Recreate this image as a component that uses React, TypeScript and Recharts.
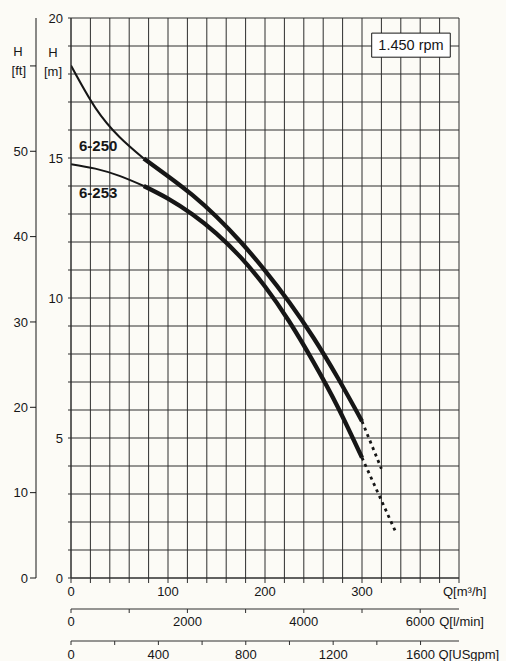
import React from 'react';
import { LineChart, Line, XAxis, YAxis, CartesianGrid, ReferenceArea, ReferenceDot } from 'recharts';

// Flow points [m³/h]
const qPoints = [0, 25, 50, 75, 100, 125, 150, 175, 200, 225, 250, 275, 300];
// Head [m] for each pump curve
const h6250 = [18.3, 16.8, 15.75, 14.98, 14.35, 13.68, 12.9, 12.0, 10.98, 9.85, 8.58, 7.15, 5.6];
const h6253 = [14.78, 14.62, 14.36, 14.0, 13.55, 12.99, 12.3, 11.45, 10.41, 9.16, 7.71, 6.11, 4.3];
const thickFromIndex = 3;
// dashed extension end points
const dashEnd6250 = { q: 320, h: 3.9 };
const dashEnd6253 = { q: 334, h: 1.7 };

const curveNames = ['6-250', '6-253'];
const curveLabelPos = [{ q: 8.2, h: 15.43 }, { q: 8.2, h: 13.75 }];
const speedLabel = '1.450 rpm';

const qTicks = [0, 20, 40, 60, 80, 100, 120, 140, 160, 180, 200, 220, 240, 260, 280, 300, 320, 340, 360, 380, 400];
const qLabelled = [0, 100, 200, 300];
const hTicks = [0, 1, 2, 3, 4, 5, 6, 7, 8, 9, 10, 11, 12, 13, 14, 15, 16, 17, 18, 19, 20];
const hLabelled = [0, 5, 10, 15, 20];
const ftTicks = [0, 10, 20, 30, 40, 50, 60];
const lminTicks = [0, 1000, 2000, 3000, 4000, 5000, 6000];
const lminLabelled = [0, 2000, 4000];
const gpmTicks = [0, 200, 400, 600, 800, 1000, 1200, 1400, 1600];
const gpmLabelled = [0, 400, 800, 1200];

const Q_MAX = 400;
const H_MAX = 20;
const FT_MAX = H_MAX * 3.28084;
const LMIN_MAX = (Q_MAX * 1000) / 60;
const GPM_MAX = 1776;

const FONT = 'Liberation Sans, Arial, Helvetica, sans-serif';
const INK = '#161616';
const GRID = '#2e2e2e';

const seg = (hs: number[], from: number, to: number) =>
  qPoints.slice(from, to + 1).map((q, i) => ({ q, h: hs[from + i] }));

const last = qPoints.length - 1;
const thin6250 = seg(h6250, 0, thickFromIndex);
const thick6250 = seg(h6250, thickFromIndex, last);
const dash6250 = [{ q: qPoints[last], h: h6250[last] }, dashEnd6250];
const thin6253 = seg(h6253, 0, thickFromIndex);
const thick6253 = seg(h6253, thickFromIndex, last);
const dash6253 = [{ q: qPoints[last], h: h6253[last] }, dashEnd6253];

// invisible range carriers so the secondary flow axes get a scale
const lminRange = [{ lmin: 0, h: 0 }, { lmin: LMIN_MAX, h: 0 }];
const gpmRange = [{ gpm: 0, h: 0 }, { gpm: GPM_MAX, h: 0 }];

const txt = { fontFamily: FONT, fontSize: 13, fill: INK } as const;

const QTick = (props: any) => {
  const { x, y, payload } = props;
  const v = payload.value;
  if (v === Q_MAX) {
    return (
      <text x={x - 16} y={y} dy="0.71em" textAnchor="start" {...txt}>
        Q[m³/h]
      </text>
    );
  }
  if (!qLabelled.includes(v)) return <g />;
  return (
    <text x={x} y={y} dy="0.71em" textAnchor="middle" {...txt}>
      {v}
    </text>
  );
};

const LminTick = (props: any) => {
  const { x, y, payload } = props;
  const v = payload.value;
  if (v === 6000) {
    return (
      <g>
        <text x={x} y={y} dy="0.71em" textAnchor="middle" {...txt}>6000</text>
        <text x={x + 19} y={y} dy="0.71em" textAnchor="start" {...txt}>Q[l/min]</text>
      </g>
    );
  }
  if (!lminLabelled.includes(v)) return <g />;
  return (
    <text x={x} y={y} dy="0.71em" textAnchor="middle" {...txt}>
      {v}
    </text>
  );
};

const GpmTick = (props: any) => {
  const { x, y, payload } = props;
  const v = payload.value;
  if (v === 1600) {
    return (
      <g>
        <text x={x} y={y} dy="0.71em" textAnchor="middle" {...txt}>1600</text>
        <text x={x + 18} y={y} dy="0.71em" textAnchor="start" {...txt}>Q[USgpm]</text>
      </g>
    );
  }
  if (!gpmLabelled.includes(v)) return <g />;
  return (
    <text x={x} y={y} dy="0.71em" textAnchor="middle" {...txt}>
      {v}
    </text>
  );
};

const MTick = (props: any) => {
  const { x, y, payload } = props;
  const v = payload.value;
  if (v === 18) {
    return (
      <g>
        <text x={x - 10} y={y - 22} dy="0.35em" textAnchor="middle" {...txt}>H</text>
        <text x={x - 1} y={y - 3} dy="0.35em" textAnchor="end" {...txt}>[m]</text>
      </g>
    );
  }
  if (!hLabelled.includes(v)) return <g />;
  return (
    <text x={x} y={y} dy="0.35em" textAnchor="end" {...txt}>
      {v}
    </text>
  );
};

const FtTick = (props: any) => {
  const { x, y, payload } = props;
  const v = payload.value;
  if (v === 60) {
    return (
      <g>
        <text x={x - 10} y={y - 14} dy="0.35em" textAnchor="middle" {...txt}>H</text>
        <text x={x - 2} y={y + 5} dy="0.35em" textAnchor="end" {...txt}>[ft]</text>
      </g>
    );
  }
  return (
    <text x={x} y={y} dy="0.35em" textAnchor="end" {...txt}>
      {v}
    </text>
  );
};

const lineCommon = {
  yAxisId: 'a_m',
  dataKey: 'h',
  dot: false,
  activeDot: false,
  isAnimationActive: false,
  stroke: INK,
} as const;

export default function App() {
  return (
    <div
      style={{
        position: 'absolute',
        left: 0,
        top: 0,
        width: 506,
        height: 661,
        background: '#fcfbf6',
        fontFamily: FONT,
        overflow: 'hidden',
      }}
    >
      <div style={{ position: 'absolute', left: 8, top: 8 }}>
        <LineChart width={498} height={653} margin={{ top: 10, right: 47, bottom: 0, left: 0 }}>
          <CartesianGrid xAxisId="a_q" yAxisId="a_m" stroke={GRID} strokeWidth={1} />
          <XAxis
            xAxisId="c_gpm"
            dataKey="gpm"
            type="number"
            domain={[0, GPM_MAX]}
            ticks={gpmTicks}
            interval={0}
            height={20}
            tickSize={4}
            tickMargin={5}
            axisLine={{ stroke: GRID }}
            tickLine={{ stroke: GRID }}
            tick={GpmTick}
            allowDataOverflow
          />
          <XAxis
            xAxisId="b_lmin"
            dataKey="lmin"
            type="number"
            domain={[0, LMIN_MAX]}
            ticks={lminTicks}
            interval={0}
            height={32}
            tickSize={4}
            tickMargin={4}
            axisLine={{ stroke: GRID }}
            tickLine={{ stroke: GRID }}
            tick={LminTick}
            allowDataOverflow
          />
          <XAxis
            xAxisId="a_q"
            dataKey="q"
            type="number"
            domain={[0, Q_MAX]}
            ticks={qTicks}
            interval={0}
            height={31}
            tickSize={5}
            tickMargin={4}
            axisLine={{ stroke: GRID }}
            tickLine={{ stroke: GRID }}
            tick={QTick}
            allowDataOverflow
          />
          <YAxis
            yAxisId="b_ft"
            type="number"
            domain={[0, FT_MAX]}
            ticks={ftTicks}
            interval={0}
            width={28}
            tickSize={6}
            tickMargin={2}
            axisLine={{ stroke: INK }}
            tickLine={{ stroke: INK }}
            tick={FtTick}
            allowDataOverflow
          />
          <YAxis
            yAxisId="a_m"
            type="number"
            domain={[0, H_MAX]}
            ticks={hTicks}
            interval={0}
            width={35}
            tickSize={3}
            tickMargin={5}
            axisLine={{ stroke: GRID }}
            tickLine={{ stroke: GRID }}
            tick={MTick}
            allowDataOverflow
          />

          <Line {...lineCommon} xAxisId="b_lmin" data={lminRange} stroke="none" strokeWidth={0} />
          <Line {...lineCommon} xAxisId="c_gpm" data={gpmRange} stroke="none" strokeWidth={0} />

          <Line {...lineCommon} xAxisId="a_q" data={thin6250} type="natural" strokeWidth={2} />
          <Line {...lineCommon} xAxisId="a_q" data={thick6250} type="natural" strokeWidth={4.3} />
          <Line {...lineCommon} xAxisId="a_q" data={dash6250} type="linear" strokeWidth={2.8} strokeDasharray="3 4" />
          <Line {...lineCommon} xAxisId="a_q" data={thin6253} type="natural" strokeWidth={2} />
          <Line {...lineCommon} xAxisId="a_q" data={thick6253} type="natural" strokeWidth={4.3} />
          <Line {...lineCommon} xAxisId="a_q" data={dash6253} type="linear" strokeWidth={2.8} strokeDasharray="3 4" />

          <ReferenceArea
            xAxisId="a_q"
            yAxisId="a_m"
            x1={310}
            x2={391}
            y1={18.6}
            y2={19.46}
            fill="#ffffff"
            fillOpacity={1}
            stroke={INK}
            strokeWidth={1}
            ifOverflow="visible"
            label={{ value: speedLabel, position: 'center', fontSize: 14.5, fill: INK, fontFamily: FONT }}
          />
          {curveNames.map((name, i) => (
            <ReferenceDot
              key={name}
              xAxisId="a_q"
              yAxisId="a_m"
              x={curveLabelPos[i].q}
              y={curveLabelPos[i].h}
              r={0}
              fill="none"
              stroke="none"
              ifOverflow="visible"
              label={{ value: name, position: 'right', offset: 0, fontSize: 15, fontWeight: 700, fill: INK, fontFamily: FONT }}
            />
          ))}
        </LineChart>
      </div>
    </div>
  );
}
